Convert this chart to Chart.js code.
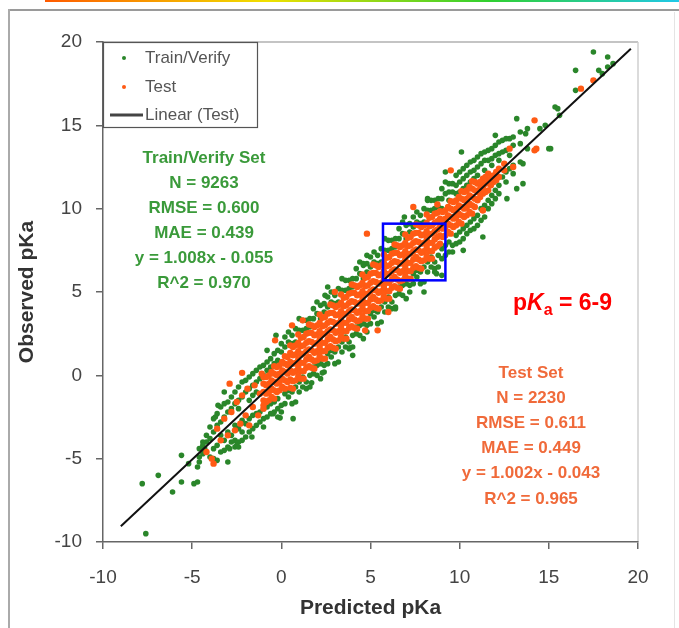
<!DOCTYPE html>
<html>

<head>
	<title>Observed vs Predicted pKa</title>
	<script src="https://cdn.jsdelivr.net/npm/chart.js@4.4.1/dist/chart.umd.min.js"></script>
	<style>
		body { margin: 0; background: #fff; }
	</style>
</head>

<body>
	<canvas id="myChart" width="679" height="628"></canvas>
	<script>
		// axis range
		var axisMin = -10, axisMax = 20, axisStep = 5;

		// Test set, dense band read column by column: [predicted, observed, observed, ...]
		var testCols = [
			[-1.0, -2.0, -1.5, -1.0, -0.5, -0.1],
			[-0.7, -1.5, -1.0, -0.5, 0.0],
			[-0.4, -1.4, -0.9, -0.4, 0.1, 0.55],
			[-0.1, -0.9, -0.4, 0.1, 0.6],
			[0.2, -0.8, -0.3, 0.2, 0.7, 1.15],
			[0.5, -0.75, -0.25, 0.3, 0.8, 1.35, 1.8],
			[0.8, -0.3, 0.25, 0.75, 1.25, 1.8],
			[1.1, -0.2, 0.25, 0.75, 1.25, 1.75, 2.25],
			[1.4, 0.45, 0.95, 1.45, 1.95, 2.5],
			[1.7, 0.45, 0.95, 1.5, 2.0, 2.55, 3.0],
			[2.0, 0.9, 1.45, 1.95, 2.45, 3.0],
			[2.3, 1.0, 1.45, 1.95, 2.45, 2.95, 3.45],
			[2.6, 1.65, 2.15, 2.65, 3.15, 3.7],
			[2.9, 1.65, 2.15, 2.7, 3.2, 3.75, 4.2],
			[3.2, 2.1, 2.65, 3.15, 3.65, 4.2],
			[3.5, 2.2, 2.65, 3.15, 3.65, 4.15, 4.65],
			[3.8, 2.85, 3.35, 3.85, 4.35, 4.9],
			[4.1, 2.85, 3.35, 3.9, 4.4, 4.95, 5.4],
			[4.4, 3.3, 3.85, 4.35, 4.85, 5.4],
			[4.7, 3.4, 3.85, 4.35, 4.85, 5.35, 5.85],
			[5.0, 4.05, 4.55, 5.05, 5.55, 6.1],
			[5.3, 4.05, 4.55, 5.1, 5.6, 6.15, 6.6],
			[5.6, 4.5, 5.05, 5.55, 6.05, 6.6],
			[5.9, 4.6, 5.05, 5.55, 6.05, 6.55, 7.05],
			[6.2, 5.25, 5.75, 6.25, 6.75, 7.3],
			[6.5, 5.25, 5.75, 6.3, 6.8, 7.35, 7.8],
			[6.8, 5.7, 6.25, 6.75, 7.25, 7.8],
			[7.1, 5.8, 6.25, 6.75, 7.25, 7.75, 8.25],
			[7.4, 6.45, 6.95, 7.45, 7.95, 8.5],
			[7.7, 6.45, 6.95, 7.5, 8.0, 8.55, 9.0],
			[8.0, 6.9, 7.45, 7.95, 8.45, 9.0],
			[8.3, 7.0, 7.45, 7.95, 8.45, 8.95, 9.45],
			[8.6, 7.65, 8.15, 8.65, 9.15, 9.7],
			[8.9, 7.9, 8.4, 8.9, 9.4, 9.85],
			[9.2, 8.4, 8.9, 9.4, 9.9],
			[9.5, 8.5, 9.0, 9.5, 10.0, 10.45],
			[9.8, 9.0, 9.5, 10.0, 10.5],
			[10.1, 9.1, 9.6, 10.1, 10.6, 11.05],
			[10.4, 9.6, 10.1, 10.6, 11.1],
			[10.7, 9.7, 10.2, 10.7, 11.2, 11.65],
			[11.0, 10.5, 11.0, 11.5],
			[11.3, 9.9, 10.9, 11.3, 11.8],
			[11.6, 11.1, 11.6, 12.1],
			[11.9, 11.6, 12.0],
			[12.2, 11.9, 12.4],
			[12.5, 12.3, 12.7]
		];
		// Test set, second pass over the band (columns in between)
		var testColsB = [
			[-0.85, -1.6, -1.1, -0.6, -0.1],
			[-0.55, -1.3, -0.8, -0.3, 0.2],
			[-0.25, -1.0, -0.5, 0.0, 0.5],
			[0.05, -0.7, -0.2, 0.3, 0.8],
			[0.35, -0.4, 0.1, 0.6, 1.1],
			[0.65, -0.8, -0.35, 0.15, 0.7, 1.2, 1.7],
			[0.95, -0.05, 0.5, 0.95, 1.45, 1.95, 2.45],
			[1.25, -0.2, 0.25, 0.75, 1.3, 1.8, 2.3],
			[1.55, 0.55, 1.1, 1.55, 2.05, 2.55, 3.05],
			[1.85, 0.4, 0.85, 1.35, 1.9, 2.4, 2.9],
			[2.15, 1.15, 1.7, 2.15, 2.65, 3.15, 3.65],
			[2.45, 1.0, 1.45, 1.95, 2.5, 3.0, 3.5],
			[2.75, 1.75, 2.3, 2.75, 3.25, 3.75, 4.25],
			[3.05, 1.6, 2.05, 2.55, 3.1, 3.6, 4.1],
			[3.35, 2.35, 2.9, 3.35, 3.85, 4.35, 4.85],
			[3.65, 2.2, 2.65, 3.15, 3.7, 4.2, 4.7],
			[3.95, 2.95, 3.5, 3.95, 4.45, 4.95, 5.45],
			[4.25, 2.8, 3.25, 3.75, 4.3, 4.8, 5.3],
			[4.55, 3.55, 4.1, 4.55, 5.05, 5.55, 6.05],
			[4.85, 3.4, 3.85, 4.35, 4.9, 5.4, 5.9],
			[5.15, 4.15, 4.7, 5.15, 5.65, 6.15, 6.65],
			[5.45, 4.0, 4.45, 4.95, 5.5, 6.0, 6.5],
			[5.75, 4.75, 5.3, 5.75, 6.25, 6.75, 7.25],
			[6.05, 4.6, 5.05, 5.55, 6.1, 6.6, 7.1],
			[6.35, 5.35, 5.9, 6.35, 6.85, 7.35, 7.85],
			[6.65, 5.2, 5.65, 6.15, 6.7, 7.2, 7.7],
			[6.95, 5.95, 6.5, 6.95, 7.45, 7.95, 8.45],
			[7.25, 5.8, 6.25, 6.75, 7.3, 7.8, 8.3],
			[7.55, 6.55, 7.1, 7.55, 8.05, 8.55, 9.05],
			[7.85, 6.4, 6.85, 7.35, 7.9, 8.4, 8.9],
			[8.15, 7.15, 7.7, 8.15, 8.65, 9.15, 9.65],
			[8.45, 7.0, 7.45, 7.95, 8.5, 9.0, 9.5],
			[8.75, 7.75, 8.3, 8.75, 9.25, 9.75, 10.25],
			[9.05, 8.3, 8.8, 9.3, 9.8],
			[9.35, 8.6, 9.1, 9.6, 10.1],
			[9.65, 8.9, 9.4, 9.9, 10.4],
			[9.95, 9.2, 9.7, 10.2, 10.7],
			[10.25, 9.5, 10.0, 10.5, 11.0],
			[10.55, 9.8, 10.3, 10.8, 11.3],
			[10.85, 10.1, 10.6, 11.1, 11.6],
			[11.15, 10.7, 11.2, 11.6],
			[11.45, 11.0, 11.5, 11.9],
			[11.75, 11.4, 11.8],
			[12.05, 11.7, 12.2]
		];
		// Test set, scattered points [predicted, observed]
		var testLoose = [
			[-4.2, -4.6], [-3.9, -5.0], [-3.8, -5.3], [-3.6, -3.2], [-3.4, -3.9], [-3.2, -2.6],
			[-3.0, -3.6], [-2.9, -0.5], [-2.8, -2.2], [-2.6, -3.3], [-2.5, -1.6], [-2.3, -2.9],
			[-2.2, -1.2], [-2.2, 0.15], [-2.0, -2.4], [-1.9, -0.8], [-1.8, -3.0], [-1.6, -1.9],
			[-1.5, -0.6], [-1.3, -2.4], [-1.2, -1.1], [-1.1, 0.1], [-1.0, -1.8], [-0.35, 2.1],
			[0.6, 3.0], [1.2, 3.3], [3.0, 5.0], [4.7, 2.7], [5.4, 2.7], [4.8, 8.5], [6.0, 3.8],
			[7.4, 10.1], [9.5, 12.3], [11.3, 9.9], [12.8, 13.6], [13.0, 12.5], [14.2, 15.3],
			[14.2, 13.5], [14.3, 13.6], [16.8, 17.2], [17.5, 17.7]
		];

		// Train/Verify set, band edges read column by column: [predicted, observed, ...]
		var trainCols = [
			[-4.6, -4.4, -4.9, -5.2],
			[-4.2, -3.6, -4.6, -4.0],
			[-3.8, -2.6, -3.4, -4.4, -5.0],
			[-3.4, -1.9, -2.8, -3.6, -4.6],
			[-3.0, -1.6, -2.2, -3.4, -4.3],
			[-2.6, -1.0, -1.7, -3.0, -3.9, -4.3],
			[-2.2, -0.4, -1.3, -2.7, -3.4, -3.9],
			[-1.8, -0.1, -0.8, -1.5, -2.6, -3.4],
			[-1.4, 0.3, -0.4, -1.0, -2.3, -3.0],
			[-1.0, 0.6, 0.0, -2.0, -2.6, -3.1],
			[-0.6, 1.0, 0.5, -1.7, -2.3],
			[-0.2, 1.5, 0.9, -1.4, -2.0, -2.5],
			[0.2, 1.7, 2.3, -1.1, -1.7],
			[0.6, 1.9, 2.4, -1.0, -1.7],
			[1.0, 2.7, 3.4, -0.4, -1.0],
			[1.4, 2.8, 3.3, -0.4, -0.8],
			[1.8, 3.4, 4.0, 0.5, 0.1],
			[2.2, 3.4, 4.2, 0.7, -0.2],
			[2.6, 4.1, 4.7, 1.3, 0.7],
			[3.0, 4.3, 4.8, 1.4, 0.7],
			[3.4, 5.1, 5.8, 2.0, 1.4],
			[3.8, 5.2, 5.7, 2.0, 1.6],
			[4.2, 5.8, 6.4, 2.9, 2.5],
			[4.6, 5.8, 6.6, 3.1, 2.2],
			[5.0, 6.5, 7.1, 3.7, 3.1],
			[5.4, 6.7, 7.2, 3.8, 3.1],
			[5.8, 7.5, 8.2, 4.4, 3.8],
			[6.2, 7.6, 8.1, 4.4, 4.0],
			[6.6, 8.2, 8.8, 5.3, 4.9],
			[7.0, 8.2, 9.0, 5.5, 4.6],
			[7.4, 8.9, 9.5, 6.1, 5.5],
			[7.8, 9.1, 9.6, 6.2, 5.5],
			[8.2, 9.9, 10.6, 6.8, 6.2],
			[8.6, 10.0, 10.5, 6.8, 6.4],
			[9.0, 11.2, 10.6, 10.0, 7.6, 7.0],
			[9.4, 11.5, 11.0, 10.5, 8.0, 7.4],
			[9.8, 12.0, 11.4, 10.9, 8.4, 7.9],
			[10.2, 12.4, 11.8, 11.2, 8.8, 8.2],
			[10.6, 12.8, 12.2, 11.6, 9.2, 8.7],
			[11.0, 13.1, 12.5, 12.0, 9.6, 9.0],
			[11.4, 13.4, 12.9, 12.3, 10.2, 9.5],
			[11.8, 13.6, 13.0, 12.6, 10.8, 10.3],
			[12.2, 14.0, 13.3, 12.9, 11.4, 10.9],
			[12.6, 14.2, 13.5, 12.2, 11.6],
			[13.0, 14.3, 13.8, 12.6, 12.1],
			[13.4, 14.6, 13.9, 12.8],
			[13.8, 14.8, 13.6]
		];
		// Train/Verify set, second pass over the band edges
		var trainColsB = [
			[-4.4, -4.0, -4.7],
			[-4.0, -3.1, -3.8, -4.9],
			[-3.6, -2.3, -3.0, -4.2, -5.1],
			[-3.2, -1.7, -2.5, -3.9, -4.5],
			[-2.8, -1.3, -2.0, -3.6, -4.0],
			[-2.4, -0.7, -1.5, -2.0, -3.2, -4.0],
			[-2.0, -0.3, -1.0, -2.9, -3.7],
			[-1.6, 0.1, -0.6, -1.2, -2.4, -3.2],
			[-1.2, 0.5, -0.2, -2.2, -2.8],
			[-0.8, 0.8, 0.3, -1.9, -2.5],
			[-0.4, 1.3, 0.7, -1.6, -2.2],
			[0.0, 1.4, 1.9, -1.8, -2.2],
			[0.4, 2.0, 2.6, -0.9, -1.3],
			[0.8, 2.0, 2.8, -0.7, -1.6],
			[1.2, 2.7, 3.3, -0.1, -0.7],
			[1.6, 2.9, 3.4, 0.0, -0.7],
			[2.0, 3.7, 4.4, 0.6, 0.0],
			[2.4, 3.8, 4.3, 0.6, 0.2],
			[2.8, 4.4, 5.0, 1.5, 1.1],
			[3.2, 4.4, 5.2, 1.7, 0.8],
			[3.6, 5.1, 5.7, 2.3, 1.7],
			[4.0, 5.3, 5.8, 2.4, 1.7],
			[4.4, 6.1, 6.8, 3.0, 2.4],
			[4.8, 6.2, 6.7, 3.0, 2.6],
			[5.2, 6.8, 7.4, 3.9, 3.5],
			[5.6, 6.8, 7.6, 4.1, 3.2],
			[6.0, 7.5, 8.1, 4.7, 4.1],
			[6.4, 7.7, 8.2, 4.8, 4.1],
			[6.8, 8.5, 9.2, 5.4, 4.8],
			[7.2, 8.6, 9.1, 5.4, 5.0],
			[7.6, 9.2, 9.8, 6.3, 5.9],
			[8.0, 9.2, 10.0, 6.5, 5.6],
			[8.4, 9.9, 10.5, 7.1, 6.5],
			[8.8, 10.1, 10.6, 7.2, 6.5],
			[9.2, 10.9, 11.6, 7.8, 7.2],
			[9.6, 11.0, 11.5, 7.8, 7.4],
			[10.0, 12.2, 11.6, 11.0, 8.6, 8.0],
			[10.4, 12.6, 12.0, 11.4, 9.0, 8.5],
			[10.8, 12.9, 12.3, 11.8, 9.4, 8.8],
			[11.2, 13.3, 12.7, 10.0, 9.3],
			[11.6, 13.5, 12.9, 10.5, 10.0],
			[12.0, 13.8, 13.2, 11.1, 10.6],
			[12.4, 14.1, 13.4, 11.9],
			[12.8, 14.2, 13.2, 12.4]
		];
		// Train/Verify set, outliers [predicted, observed]
		var trainLoose = [
			[-7.6, -9.5], [-7.8, -6.5], [-6.9, -6.0], [-6.1, -7.0], [-5.6, -6.4], [-4.7, -6.4],
			[-4.9, -6.5], [-5.6, -4.8], [-5.2, -5.3], [-4.7, -5.5], [-4.4, -4.2], [-4.3, -4.4],
			[-3.0, -5.2], [-2.5, -4.2], [-2.9, -4.4], [-3.7, -2.5], [-3.55, -1.8], [-3.2, -1.0],
			[-1.65, -3.7], [-0.07, -2.55], [0.66, -2.6], [-0.46, -2.3], [-2.4, -4.3], [-0.8, 1.5],
			[-0.3, 2.4], [1.7, -0.45], [2.3, 0.15], [4.8, 7.2], [4.6, 6.7], [2.6, 5.3], [2.45, 4.8],
			[4.0, 1.2], [6.4, 4.0], [8.0, 5.0], [8.7, 6.1], [9.0, 6.0], [3.85, 1.65], [15.35, 16.1],
			[13.2, 15.4], [13.7, 14.5], [15.1, 13.6], [12.0, 14.4], [10.1, 13.4], [9.2, 12.2],
			[13.55, 11.5], [13.2, 11.2], [12.65, 10.6], [11.3, 8.3], [8.2, 10.5], [6.9, 9.5],
			[10.2, 7.5], [8.6, 6.2], [17.5, 19.4], [18.3, 19.1], [16.5, 18.3], [16.5, 17.1],
			[18.0, 18.1], [18.6, 18.7], [15.5, 16.0], [15.6, 15.6], [15.0, 13.6], [13.55, 12.7],
			[18.3, 18.5], [17.8, 18.3], [14.5, 14.8], [14.8, 15.0]
		];

		// Linear fit of the test set
		var fitSlope = 1.002, fitIntercept = -0.043;
		var fitRange = [-9.0, 19.6];

		// highlighted window (pKa 6-9)
		var boxX = [5.7, 9.2], boxY = [5.7, 9.1];

		var trainLabel = ['Train/Verify Set', 'N = 9263', 'RMSE = 0.600', 'MAE = 0.439', 'y = 1.008x - 0.055', 'R^2 = 0.970'];
		var testLabel = ['Test Set', 'N = 2230', 'RMSE = 0.611', 'MAE = 0.449', 'y = 1.002x - 0.043', 'R^2 = 0.965'];

		var green = '#2a862a', orange = '#ff5a14';

		function toPoints(colSets, loose) {
			var pts = [];
			colSets.forEach(function (cols) {
				cols.forEach(function (c) {
					for (var i = 1; i < c.length; i++) pts.push({ x: c[0], y: c[i] });
				});
			});
			loose.forEach(function (p) { pts.push({ x: p[0], y: p[1] }); });
			return pts;
		}

		var fitData = fitRange.map(function (x) { return { x: x, y: fitSlope * x + fitIntercept }; });

		var decor = {
			id: 'decor',
			beforeDraw: function (chart) {
				var ctx = chart.ctx;
				ctx.save();
				var g = ctx.createLinearGradient(45, 0, 679, 0);
				g.addColorStop(0, '#ff5a00');
				g.addColorStop(0.35, '#f0e000');
				g.addColorStop(0.7, '#30d030');
				g.addColorStop(1, '#20c8e8');
				ctx.fillStyle = g;
				ctx.fillRect(45, 0, 634, 2);
				ctx.fillStyle = '#9a9a9a';
				ctx.fillRect(8, 9, 671, 2);
				ctx.fillStyle = '#aaaaaa';
				ctx.fillRect(8, 9, 2, 619);
				ctx.fillStyle = '#e4e4e4';
				ctx.fillRect(674, 12, 1, 616);
				var a = chart.chartArea;
				ctx.strokeStyle = '#b0b0b0';
				ctx.lineWidth = 1.5;
				ctx.beginPath();
				ctx.moveTo(a.left, a.top);
				ctx.lineTo(a.right, a.top);
				ctx.stroke();
				ctx.strokeStyle = '#cfcfcf';
				ctx.beginPath();
				ctx.moveTo(a.right, a.top);
				ctx.lineTo(a.right, a.bottom);
				ctx.stroke();
				ctx.restore();
			},
			afterDatasetsDraw: function (chart) {
				var ctx = chart.ctx, xs = chart.scales.x, ys = chart.scales.y;
				ctx.save();
				// zoom window
				ctx.strokeStyle = '#0000ff';
				ctx.lineWidth = 2.5;
				var x0 = xs.getPixelForValue(boxX[0]), x1 = xs.getPixelForValue(boxX[1]);
				var y0 = ys.getPixelForValue(boxY[1]), y1 = ys.getPixelForValue(boxY[0]);
				ctx.strokeRect(x0, y0, x1 - x0, y1 - y0);

				// legend
				var a = chart.chartArea;
				ctx.fillStyle = '#fff';
				ctx.fillRect(a.left, a.top, 154, 85);
				ctx.strokeStyle = '#555';
				ctx.lineWidth = 1.2;
				ctx.strokeRect(a.left + 0.5, a.top + 0.5, 154, 85);
				ctx.font = '17px "Liberation Sans", Arial, sans-serif';
				ctx.textBaseline = 'middle';
				ctx.textAlign = 'left';
				ctx.fillStyle = green;
				ctx.beginPath(); ctx.arc(a.left + 21, a.top + 16, 2, 0, Math.PI * 2); ctx.fill();
				ctx.fillStyle = orange;
				ctx.beginPath(); ctx.arc(a.left + 21, a.top + 45, 2, 0, Math.PI * 2); ctx.fill();
				ctx.strokeStyle = '#444';
				ctx.lineWidth = 3;
				ctx.beginPath(); ctx.moveTo(a.left + 7, a.top + 73); ctx.lineTo(a.left + 40, a.top + 73); ctx.stroke();
				ctx.fillStyle = '#555';
				ctx.fillText('Train/Verify', a.left + 42, a.top + 16);
				ctx.fillText('Test', a.left + 42, a.top + 45);
				ctx.fillText('Linear (Test)', a.left + 42, a.top + 73);

				// statistics blocks
				ctx.textAlign = 'center';
				ctx.font = 'bold 17px "Liberation Sans", Arial, sans-serif';
				ctx.fillStyle = '#3a9a3a';
				trainLabel.forEach(function (t, i) { ctx.fillText(t, 204, 158 + i * 25); });
				ctx.fillStyle = '#f06a3a';
				testLabel.forEach(function (t, i) { ctx.fillText(t, 531, 373 + i * 25.2); });

				// pKa = 6-9
				ctx.textAlign = 'left';
				ctx.textBaseline = 'alphabetic';
				ctx.fillStyle = '#ff0000';
				var px = 513, py = 310;
				ctx.font = 'bold 23px "Liberation Sans", Arial, sans-serif';
				ctx.fillText('p', px, py); px += ctx.measureText('p').width;
				ctx.font = 'italic bold 23px "Liberation Sans", Arial, sans-serif';
				ctx.fillText('K', px, py); px += ctx.measureText('K').width;
				ctx.font = 'bold 16px "Liberation Sans", Arial, sans-serif';
				ctx.fillText('a', px, py + 5); px += ctx.measureText('a').width;
				ctx.font = 'bold 23px "Liberation Sans", Arial, sans-serif';
				ctx.fillText(' = 6-9', px, py);
				ctx.restore();
			}
		};

		var tickFont = { family: '"Liberation Sans", Arial, sans-serif', size: 19 };
		var titleFont = { family: '"Liberation Sans", Arial, sans-serif', size: 21, weight: 'bold' };

		var ctx = document.getElementById('myChart').getContext('2d');
		var myChart = new Chart(ctx, {
			data: {
				datasets: [{
					type: 'scatter',
					label: 'Train/Verify',
					data: toPoints([trainCols, trainColsB], trainLoose),
					backgroundColor: green,
					borderWidth: 0,
					pointRadius: 2.8,
					order: 2
				}, {
					type: 'scatter',
					label: 'Test',
					data: toPoints([testCols, testColsB], testLoose),
					backgroundColor: orange,
					borderWidth: 0,
					pointRadius: 3.2,
					order: 1
				}, {
					type: 'line',
					label: 'Linear (Test)',
					data: fitData,
					borderColor: '#111',
					borderWidth: 2,
					pointRadius: 0,
					fill: false,
					order: 0
				}]
			},
			options: {
				responsive: false,
				animation: false,
				layout: { padding: { left: 0, right: 41, top: 42, bottom: 0 } },
				plugins: { legend: { display: false }, tooltip: { enabled: false } },
				scales: {
					x: {
						type: 'linear',
						min: axisMin, max: axisMax,
						ticks: { stepSize: axisStep, color: '#444', font: tickFont, padding: 17 },
						grid: { drawOnChartArea: false, drawTicks: true, tickLength: 7, color: '#666', lineWidth: 1.5 },
						border: { color: '#666', width: 1.5 },
						title: { display: true, text: 'Predicted pKa', color: '#333', font: titleFont, padding: { top: 7, bottom: 7 } },
						afterFit: function (s) { s.height = 86; }
					},
					y: {
						type: 'linear',
						min: axisMin, max: axisMax,
						ticks: { stepSize: axisStep, color: '#444', font: tickFont, padding: 14 },
						grid: { drawOnChartArea: false, drawTicks: true, tickLength: 7, color: '#666', lineWidth: 1.5 },
						border: { color: '#666', width: 1.5 },
						title: { display: true, text: 'Observed pKa', color: '#333', font: titleFont, padding: { top: 15, bottom: 15 } },
						afterFit: function (s) { s.width = 103; }
					}
				}
			},
			plugins: [decor]
		});
	</script>
</body>

</html>
